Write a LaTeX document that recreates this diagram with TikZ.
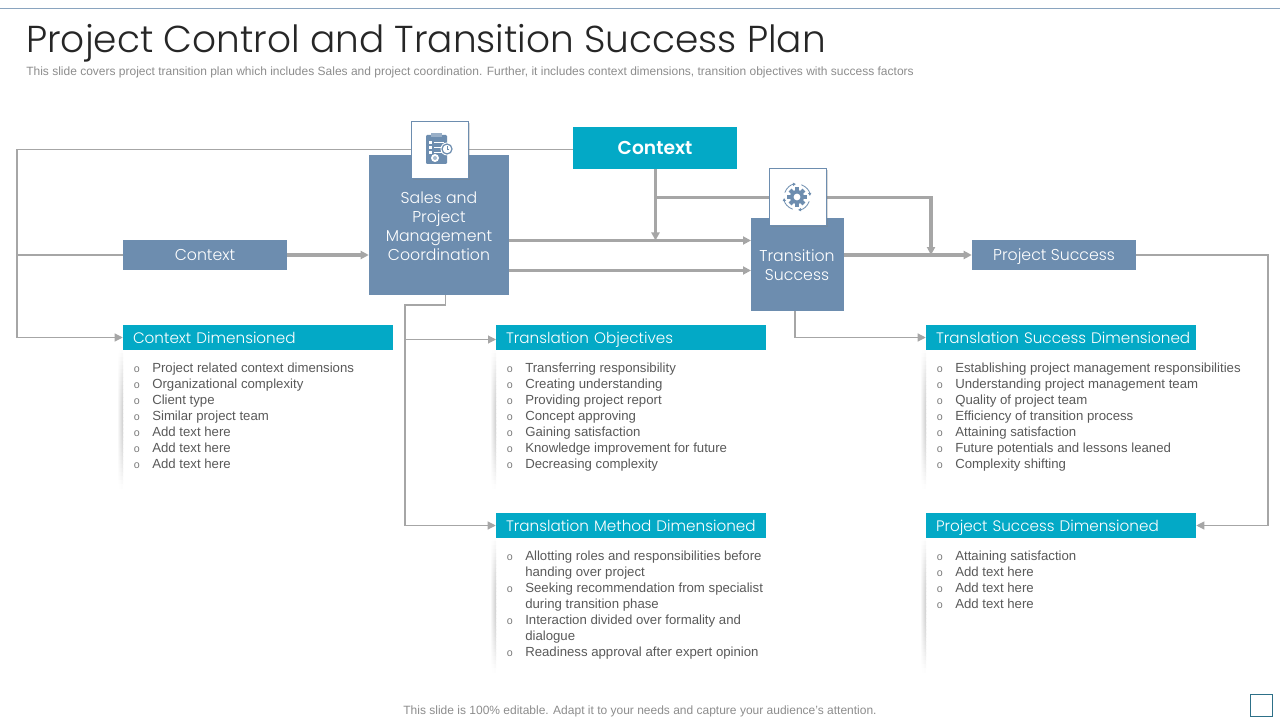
\documentclass[tikz,border=0pt]{standalone}
\usepackage{fontspec}
\usetikzlibrary{arrows.meta,shadows}
\setmainfont{Liberation Sans}
\newfontfamily\gothic{Poppins Light}
\definecolor{steel}{HTML}{6D8DAF}
\definecolor{teal}{HTML}{03A9C6}
\definecolor{wire}{HTML}{A6A6A6}
\definecolor{bodygray}{HTML}{595959}
\definecolor{notegray}{HTML}{8C8C8C}
\definecolor{cornerblue}{HTML}{2D7088}
\tikzset{
  >={Triangle[length=6pt,width=6pt]},
  steelbox/.style={shape=rectangle,fill=steel,text=white,inner sep=0pt,align=center,font=\gothic\fontsize{11.8}{14.25}\selectfont},
  oneline/.style={text height=9.7pt,text depth=1.5pt},
  header/.style={shape=rectangle,fill=teal,text=white,inner ysep=0pt,inner xsep=7.5pt,text width=187.5pt,minimum height=18.75pt,text height=10pt,text depth=1pt,align=left,font=\gothic\fontsize{11.4}{14}\selectfont},
  listtext/.style={anchor=north west,inner sep=0pt,align=left,text=bodygray,font=\fontsize{9.9}{12}\selectfont},
  listdots/.style={anchor=north west,inner sep=0pt,align=left,text=bodygray!80,font=\fontsize{8}{12}\selectfont},
  iconbox/.style={shape=rectangle,draw=steel,line width=0.6pt,fill=white,minimum width=42.75pt,minimum height=42.75pt,inner sep=0pt,drop shadow={shadow xshift=1pt,shadow yshift=-1.2pt,opacity=0.3}},
  thinwire/.style={draw=wire,line width=0.8pt},
  thickwire/.style={draw=wire,line width=2.3pt},
}
\newcommand{\sidebar}[3]{%
  \foreach \k in {0,...,34} {
    \pgfmathsetmacro{\shadeval}{20*sin(180*(\k+0.5)/35)}
    \shade[left color=white,right color=black!\shadeval] (#1-6,{#2+(#3-#2)*\k/35}) rectangle (#1,{#2+(#3-#2)*(\k+1)/35+0.3});
  }
}
\begin{document}
\begin{tikzpicture}[x=0.75pt,y=-0.75pt]
\useasboundingbox (0,0) rectangle (1280,720);
\draw[color=steel!80,line width=0.6pt] (0,8.5) -- (1280,8.5);
\node[anchor=west,inner sep=0pt,font=\gothic\fontsize{28.1}{34}\selectfont,text=black!85] (title) at (26,43) {Project Control and Transition Success Plan};
\node[anchor=west,inner sep=0pt,font=\fontsize{9}{11}\selectfont,text=notegray] (subtitle) at (26,72) {This slide covers project transition plan which includes Sales and project coordination. Further, it includes context dimensions, transition objectives with success factors};

% boxes
\node[steelbox,minimum width=105pt,minimum height=105pt] (sales) at (439,225) {};
\node[steelbox] (salestext) at (439,226) {Sales and\\Project\\Management\\Coordination};
\node[steelbox,minimum width=69.75pt,minimum height=69.75pt] (trans) at (797.5,264.5) {};
\node[steelbox] (transtext) at (797,265) {Transition\\Success};
\node[steelbox,oneline,minimum width=123pt,minimum height=22.5pt] (ctxleft) at (205,255) {Context};
\node[steelbox,oneline,minimum width=123pt,minimum height=22.5pt] (success) at (1054,255) {Project Success};
\node[shape=rectangle,fill=teal,text=white,minimum width=123pt,minimum height=31.5pt,inner sep=0pt,font=\gothic\bfseries\fontsize{14}{16}\selectfont] (ctxtop) at (655,148) {Context};

\node[header] (hctx) at (258,337.5) {\mbox{Context Dimensioned}};
\node[header] (hobj) at (631,337.5) {\mbox{Translation Objectives}};
\node[header] (hsuc) at (1061,337.5) {\mbox{Translation Success Dimensioned}};
\node[header] (hmet) at (631,525.5) {\mbox{Translation Method Dimensioned}};
\node[header] (hpsd) at (1061,525.5) {\mbox{Project Success Dimensioned}};

% side shadows
\sidebar{123}{350}{488}
\sidebar{496}{350}{488}
\sidebar{926}{350}{488}
\sidebar{496}{538}{672}
\sidebar{926}{538}{672}

% lists
\node[listdots] (dctx) at (133.5,366) {o\\o\\o\\o\\o\\o\\o};
\node[listtext] (lctx) at (152,362.5) {Project related context dimensions\\Organizational complexity\\Client type\\Similar project team\\Add text here\\Add text here\\Add text here};
\node[listdots] (dobj) at (506.5,366) {o\\o\\o\\o\\o\\o\\o};
\node[listtext] (lobj) at (525,362.5) {Transferring responsibility\\Creating understanding\\Providing project report\\Concept approving\\Gaining satisfaction\\Knowledge improvement for future\\Decreasing complexity};
\node[listdots] (dsuc) at (936.5,366) {o\\o\\o\\o\\o\\o\\o};
\node[listtext] (lsuc) at (955,362.5) {Establishing project management responsibilities\\Understanding project management team\\Quality of project team\\Efficiency of transition process\\Attaining satisfaction\\Future potentials and lessons leaned\\Complexity shifting};
\node[listdots] (dmet) at (506.5,554) {o\\[12pt]o\\[12pt]o\\[12pt]o};
\node[listtext] (lmet) at (525,550.5) {Allotting roles and responsibilities before\\handing over project\\Seeking recommendation from specialist\\during transition phase\\Interaction divided over formality and\\dialogue\\Readiness approval after expert opinion};
\node[listdots] (dpsd) at (936.5,554) {o\\o\\o\\o};
\node[listtext] (lpsd) at (955,550.5) {Attaining satisfaction\\Add text here\\Add text here\\Add text here};

\node[inner sep=0pt,font=\fontsize{9}{11}\selectfont,text=notegray] (footer) at (640,711.5) {This slide is 100\% editable. Adapt it to your needs and capture your audience's attention.};
\node[shape=rectangle,draw=cornerblue,line width=0.6pt,minimum width=16.5pt,minimum height=16.5pt,inner sep=0pt] (corner) at (1261,705) {};

% connectors
\coordinate (farnorth) at (17,149.5);
\coordinate (farsouth) at (17,337.5);
\coordinate (farmid) at (17,255);
\coordinate (salesdrop) at (445.5,305);
\coordinate (salesline) at (405,305);
\coordinate (objline) at (405,339.5);
\coordinate (objend) at (496,339.5);
\coordinate (farright) at (1268,255);
\coordinate (rightdown) at (1268,525.5);
\coordinate (t1) at (751,240.5);
\coordinate (t2) at (751,270.5);
\coordinate (mid1) at (655.5,240.5);
\coordinate (mid2) at (655.5,197.5);
\coordinate (mid3) at (931,197.5);
\coordinate (mid4) at (931,255);
\coordinate (transdrop) at (795,311);
\coordinate (transturn) at (795,337.5);

\path[thinwire,->] (ctxtop.west |- farnorth) -- (farnorth) -- (farsouth) -- (hctx.west);
\path[thinwire] (ctxleft.west) -- (farmid);
\path[thickwire,->] (ctxleft.east) -- (sales.west |- ctxleft.east);
\path[thickwire,->] (sales.east |- t1) -- (t1);
\path[thickwire,->] (sales.east |- t2) -- (t2);
\path[thickwire,->] (ctxtop.south -| mid1) -- (mid1);
\path[thickwire,->] (mid2) -- (mid3) -- (mid4);
\path[thickwire,->] (trans.east |- success.west) -- (success.west);
\path[thinwire,->] (sales.south -| salesdrop) -- (salesdrop) -- (salesline) -- (hmet.west -| salesline) -- (hmet.west);
\path[thinwire,->] (objline) -- (objend);
\path[thinwire,->] (transdrop) -- (transturn) -- (hsuc.west);
\path[thinwire,->] (success.east) -- (farright) -- (rightdown) -- (hpsd.east);

% icon boxes
\node[iconbox] (iconsales) at (440,150) {};
\node[iconbox] (icontrans) at (798,197) {};

% clipboard
\fill[steel,rounded corners=0.8pt] (426,135) rectangle (447,164);
\fill[steel!70] (431,133) rectangle (442,137);
\foreach \ly in {141,146,151} {
  \fill[white] (429,\ly) rectangle (432,\ly+3);
  \draw[white,line width=0.4pt] (434,\ly+1.5) -- (444,\ly+1.5);
}
\fill[white] (435,158) circle (4);
\fill[steel!60] (435,158) circle (2);
\fill[white] (447,149) circle (6.5);
\draw[steel,line width=0.9pt] (447,149) circle (5);
\draw[steel,line width=0.5pt] (447,146.5) -- (447,149) -- (449,149);

% gear
\foreach \a in {0,45,...,315} {
  \draw[steel,line width=3pt] (797,197) ++(\a:6) -- ++(\a:3.8);
}
\fill[steel] (797,197) circle (7);
\fill[white] (797,197) circle (3.4);
\foreach \a in {20,110,200,290} {
  \draw[steel,line width=0.6pt,-{Triangle[length=2.2pt,width=2.4pt]}] (797,197) ++(\a:13) arc[start angle=\a,end angle=\a+65,radius=13];
}
\end{tikzpicture}
\end{document}
